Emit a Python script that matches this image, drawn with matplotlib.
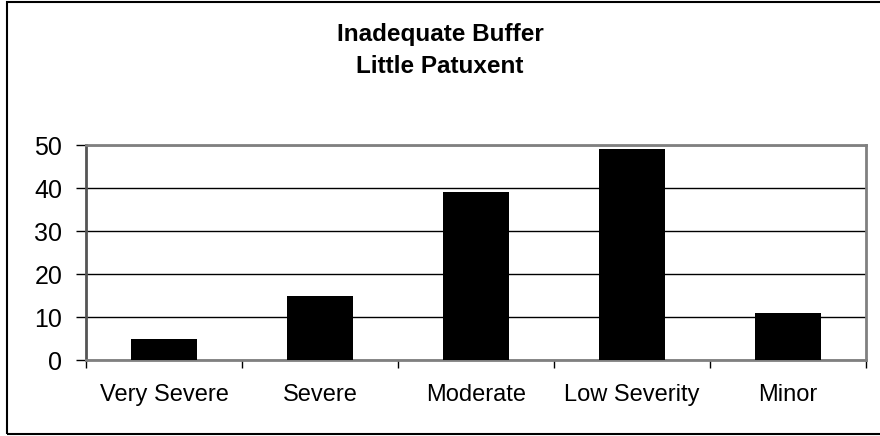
import matplotlib.pyplot as plt
from matplotlib.patches import Rectangle

# severity classes and counts for inadequate buffer sites
categories = ['Very Severe', 'Severe', 'Moderate', 'Low Severity', 'Minor']
counts = [5, 15, 39, 49, 11]
yticks = [0, 10, 20, 30, 40, 50]

plt.rcParams['font.family'] = ['Liberation Sans', 'DejaVu Sans']

fig = plt.figure(figsize=(8.8, 4.36), dpi=100)
ax = fig.add_axes([0.0977, 0.1743, 0.8863, 0.4931])

xpos = list(range(len(categories)))
ax.bar(xpos, counts, width=0.42, color='black', zorder=3)

ax.set_xlim(-0.5, len(categories) - 0.5)
ax.set_ylim(0, 50)

ax.set_yticks(yticks)
ax.set_yticklabels([str(v) for v in yticks], fontsize=18)
ax.tick_params(axis='y', length=7, width=1, pad=10, color='black')
ax.yaxis.grid(True, color='black', linewidth=1, zorder=1)

# tick marks between categories, labels centred under each bar
ax.set_xticks([i - 0.5 for i in range(len(categories) + 1)])
ax.set_xticklabels([])
ax.set_xticks(xpos, minor=True)
ax.set_xticklabels(categories, minor=True, fontsize=17)
ax.tick_params(axis='x', which='major', length=6, width=1, color='black')
ax.tick_params(axis='x', which='minor', length=0, pad=17)

for s in ax.spines.values():
    s.set_color('#808080')
    s.set_linewidth(2)
ax.spines['left'].set_color('#555555')

fig.text(0.5, 0.948, 'Inadequate Buffer\nLittle Patuxent', ha='center', va='top',
         fontsize=17.5, fontweight='bold', linespacing=1.5)

# outer chart frame
fig.patches.append(Rectangle((0.008, 0.004), 1.2, 0.991, transform=fig.transFigure,
                             fill=False, edgecolor='black', linewidth=1.5))

plt.savefig('out.png', dpi=100)
